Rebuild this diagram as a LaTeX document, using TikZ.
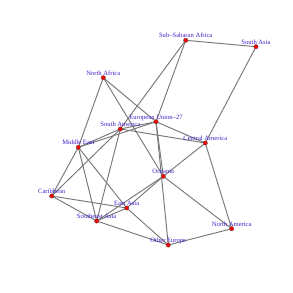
\documentclass[tikz,border=0pt]{standalone}
\usepackage{fontspec}
\setmainfont{Liberation Serif}
\usetikzlibrary{backgrounds}
\definecolor{labcol}{RGB}{70,30,200}
\definecolor{edgecol}{RGB}{120,120,120}
\tikzset{
  dot/.style={circle, fill=red, draw=black!70, line width=0.3pt, inner sep=0pt, minimum size=4.4pt},
  lab/.style={text=labcol, font=\fontsize{6.6}{7}\selectfont, anchor=base, inner sep=0pt},
  edge/.style={draw=edgecol, line width=0.95pt}
}
\begin{document}
\begin{tikzpicture}[x=1pt,y=-1pt]
\useasboundingbox (0,0) rectangle (293,293);
\node[dot] (ssa) at (185.7,40.3) {};
\node[dot] (sas) at (256,46.7) {};
\node[dot] (naf) at (103.3,77.7) {};
\node[dot] (eu) at (156,121.7) {};
\node[dot] (sam) at (120.3,129) {};
\node[dot] (me) at (78.3,147.3) {};
\node[dot] (cam) at (205.3,143) {};
\node[dot] (oce) at (163.3,176.3) {};
\node[dot] (car) at (51.7,196) {};
\node[dot] (eas) at (126.7,208) {};
\node[dot] (sea) at (96.7,221) {};
\node[dot] (oeu) at (168.3,245) {};
\node[dot] (nam) at (231.7,228.7) {};
\node[lab] at ([yshift=2.6pt]ssa.center) {Sub–Saharan Africa};
\node[lab] at ([yshift=2.6pt]sas.center) {South Asia};
\node[lab] at ([yshift=2.6pt]naf.center) {North Africa};
\node[lab] at ([yshift=2.6pt]eu.center) {European Union–27};
\node[lab] at ([yshift=2.6pt]sam.center) {South America};
\node[lab] at ([yshift=2.6pt]me.center) {Middle East};
\node[lab] at ([yshift=2.6pt]cam.center) {Central America};
\node[lab] at ([yshift=2.6pt]oce.center) {Oceania};
\node[lab] at ([yshift=2.6pt]car.center) {Caribbean};
\node[lab] at ([yshift=2.6pt]eas.center) {East Asia};
\node[lab] at ([yshift=2.6pt]sea.center) {Southeast Asia};
\node[lab] at ([yshift=2.6pt]oeu.center) {Other Europe};
\node[lab] at ([yshift=2.6pt]nam.center) {North America};
\begin{pgfonlayer}{background}
\draw[edge] (ssa.center) -- (sas.center);
\draw[edge] (sas.center) -- (cam.center);
\draw[edge] (ssa.center) -- (eu.center);
\draw[edge] (ssa.center) -- (sam.center);
\draw[edge] (naf.center) -- (me.center);
\draw[edge] (naf.center) -- (oce.center);
\draw[edge] (naf.center) -- (eu.center);
\draw[edge] (me.center) -- (sam.center);
\draw[edge] (me.center) -- (eu.center);
\draw[edge] (me.center) -- (car.center);
\draw[edge] (me.center) -- (sea.center);
\draw[edge] (me.center) -- (eas.center);
\draw[edge] (car.center) -- (sam.center);
\draw[edge] (car.center) -- (eas.center);
\draw[edge] (car.center) -- (sea.center);
\draw[edge] (sam.center) -- (sea.center);
\draw[edge] (sam.center) -- (eu.center);
\draw[edge] (sea.center) -- (eas.center);
\draw[edge] (sea.center) -- (oce.center);
\draw[edge] (sea.center) -- (oeu.center);
\draw[edge] (eas.center) -- (oce.center);
\draw[edge] (eu.center) -- (oce.center);
\draw[edge] (eu.center) -- (oeu.center);
\draw[edge] (eu.center) -- (cam.center);
\draw[edge] (sam.center) -- (cam.center);
\draw[edge] (cam.center) -- (oce.center);
\draw[edge] (cam.center) -- (nam.center);
\draw[edge] (oce.center) -- (nam.center);
\draw[edge] (oeu.center) -- (nam.center);
\draw[edge] (eas.center) -- (oeu.center);
\end{pgfonlayer}
\end{tikzpicture}
\end{document}
